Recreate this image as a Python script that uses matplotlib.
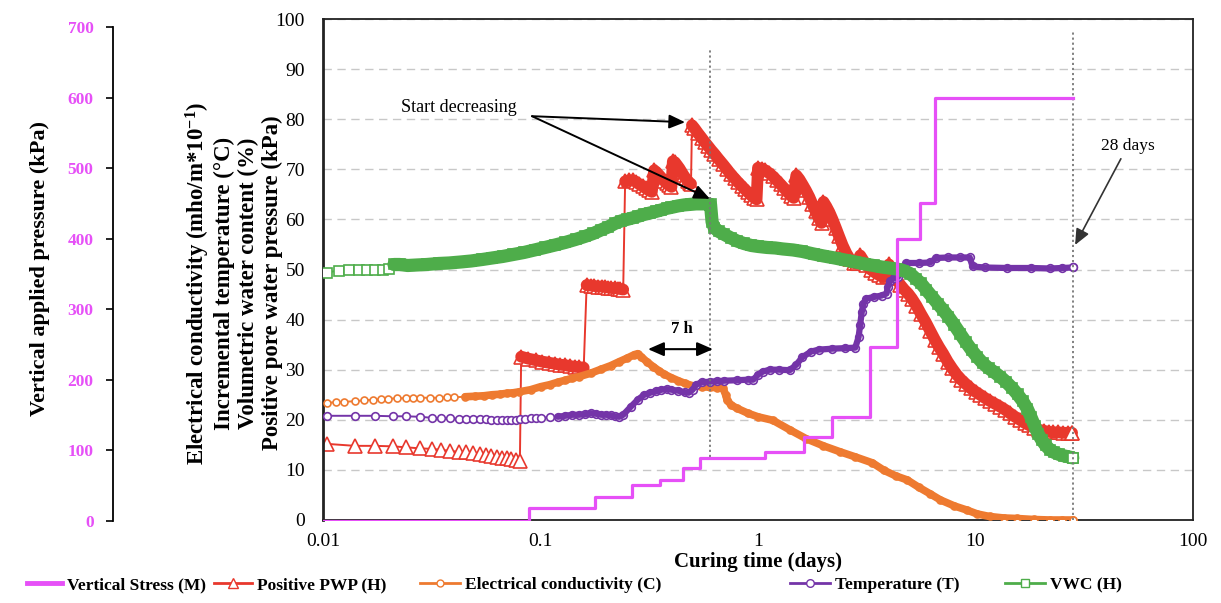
import numpy as np
import matplotlib
matplotlib.use("Agg")
import matplotlib.pyplot as plt
from matplotlib.lines import Line2D

plt.rcParams["font.family"] = ["Liberation Serif", "DejaVu Serif"]
plt.rcParams["mathtext.fontset"] = "custom"
plt.rcParams["mathtext.rm"] = "Liberation Serif"
plt.rcParams["mathtext.bf"] = "Liberation Serif:bold"
plt.rcParams["mathtext.default"] = "bf"

PINK = "#E650F7"
RED = "#E8382D"
ORANGE = "#EE7A30"
PURPLE = "#7434A8"
GREEN = "#4EAD4A"

# vertical applied stress (kPa), step loading
stress_t = [0.01, 0.0885, 0.178, 0.263, 0.354, 0.452, 0.541, 1.077, 1.627, 2.19, 3.27, 4.36, 5.56, 6.51, 28.0]
stress_v = [0, 18, 34, 51, 58, 75, 89, 98, 119, 147, 247, 400, 451, 600, 600]

# positive pore water pressure (kPa)
red_t = [0.0104, 0.0140, 0.0173, 0.0210, 0.0242, 0.0279, 0.0316, 0.0350, 0.0385, 0.0420, 0.0455,
         0.0490, 0.0525, 0.0560, 0.0595, 0.0630, 0.0665, 0.0700, 0.0735, 0.0770, 0.0804,
         0.0815, 0.088, 0.095, 0.102, 0.109, 0.116, 0.123, 0.130, 0.137, 0.144, 0.151, 0.158,
         0.163, 0.170, 0.177, 0.184, 0.191, 0.198, 0.205, 0.212, 0.219, 0.226, 0.233, 0.240,
         0.245, 0.255, 0.265, 0.275, 0.285, 0.295, 0.305, 0.315, 0.325, 0.333, 0.340, 0.350, 0.360,
         0.370, 0.380, 0.390, 0.400, 0.406, 0.415, 0.425, 0.435, 0.445, 0.455, 0.465, 0.475, 0.485, 0.492,
         0.497, 0.51, 0.53, 0.55, 0.57, 0.59, 0.61, 0.63, 0.66, 0.69, 0.72, 0.75, 0.78, 0.81, 0.84,
         0.87, 0.90, 0.93, 0.96, 0.985,
         1.00, 1.04, 1.08, 1.12, 1.17, 1.22, 1.27, 1.32, 1.37, 1.42, 1.46,
         1.50, 1.55, 1.60, 1.66, 1.72, 1.78, 1.84, 1.90, 1.96,
         2.00, 2.06, 2.13, 2.20, 2.28, 2.36, 2.45, 2.55, 2.65, 2.75, 2.85, 2.95, 3.05, 3.15, 3.30,
         3.45, 3.60, 3.75, 3.90, 4.00, 4.15, 4.30, 4.50, 4.70, 4.90, 5.10, 5.35, 5.60, 5.90, 6.20,
         6.50, 6.80, 7.10, 7.45, 7.80, 8.20, 8.60, 9.00, 9.50, 10.0, 10.5, 11.1, 11.7, 12.3, 13.0,
         13.7, 14.4, 15.2, 16.0, 16.8, 17.7, 18.6, 19.6, 20.6, 21.7, 22.8, 24.0, 25.2, 26.5, 27.8]
red_v = [15.2, 14.8, 14.8, 14.7, 14.5, 14.3, 14.2, 14.0, 13.8, 13.6, 13.5,
         13.3, 13.1, 12.9, 12.8, 12.6, 12.4, 12.3, 12.1, 12.0, 11.8,
         32.6, 32.2, 31.9, 31.6, 31.4, 31.2, 31.0, 30.9, 30.7, 30.6, 30.5, 30.4,
         46.9, 46.8, 46.7, 46.6, 46.6, 46.5, 46.4, 46.3, 46.3, 46.2, 46.1, 46.0,
         67.6, 67.8, 67.8, 67.5, 67.0, 66.6, 66.2, 65.8, 65.5, 69.8, 69.5, 68.9, 68.3,
         67.7, 67.2, 66.8, 66.5, 71.6, 71.4, 70.8, 70.2, 69.5, 68.8, 68.2, 67.7, 67.3, 67.1,
         78.8, 78.2, 77.2, 76.3, 75.4, 74.6, 73.8, 73.1, 72.0, 71.0, 70.0, 69.0, 68.2, 67.4, 66.7,
         66.0, 65.4, 64.8, 64.3, 64.0,
         70.3, 70.1, 69.8, 69.3, 68.6, 67.8, 67.0, 66.2, 65.4, 64.7, 64.3,
         68.8, 68.0, 67.0, 65.8, 64.5, 63.0, 61.6, 60.3, 59.3,
         63.5, 62.6, 61.4, 60.0, 58.3, 56.6, 54.8, 53.2, 52.0, 51.3, 51.2, 52.8, 51.8, 50.8, 50.0,
         49.4, 48.9, 48.5, 48.8, 51.0, 49.5, 48.3, 47.0, 46.0, 45.2, 44.2, 42.8, 41.2, 39.5, 37.7,
         36.0, 34.5, 33.2, 31.6, 30.3, 29.0, 28.0, 27.2, 26.3, 25.6, 25.0, 24.3, 23.7, 23.2, 22.6,
         22.0, 21.3, 20.6, 20.0, 19.4, 18.9, 18.4, 18.0, 17.8, 17.6, 17.5, 17.5, 17.4, 17.4, 17.4]

# electrical conductivity (mho/m*10^-1)
orange_t = [0.0104, 0.0115, 0.0125, 0.0140, 0.0155, 0.0170, 0.0185, 0.0200, 0.0220, 0.0240,
            0.0260, 0.0280, 0.0310, 0.0340, 0.0370, 0.0400, 0.0450, 0.0500, 0.0550, 0.0600,
            0.0650, 0.0700, 0.0750, 0.0800, 0.0900, 0.100, 0.110, 0.120, 0.130, 0.140,
            0.150, 0.170, 0.190, 0.210, 0.230, 0.250, 0.270, 0.280, 0.290, 0.310,
            0.330, 0.350, 0.370, 0.400, 0.430, 0.460, 0.500, 0.550, 0.600, 0.650,
            0.690, 0.710, 0.720, 0.750, 0.800, 0.900, 1.00, 1.17, 1.40, 1.67,
            2.00, 2.39, 2.80, 3.36, 3.80, 4.30, 4.85, 5.50, 6.20, 6.90,
            8.00, 9.10, 10.2, 11.6, 13.5, 15.5, 18.5, 22.0, 25.0, 28.0]
orange_v = [23.4, 23.5, 23.6, 23.7, 23.9, 24.0, 24.1, 24.2, 24.3, 24.3,
            24.4, 24.4, 24.4, 24.4, 24.5, 24.5, 24.6, 24.7, 24.8, 25.0,
            25.1, 25.3, 25.4, 25.6, 26.0, 26.6, 27.0, 27.5, 27.9, 28.3,
            28.6, 29.3, 30.1, 30.8, 31.6, 32.3, 33.0, 33.2, 32.6, 31.5,
            30.6, 29.8, 29.1, 28.4, 27.8, 27.3, 26.8, 26.6, 26.5, 26.4,
            26.3, 25.0, 24.0, 23.0, 22.3, 21.3, 20.6, 19.9, 18.0, 16.2,
            14.8, 13.6, 12.6, 11.4, 9.9, 8.8, 8.0, 6.5, 5.2, 4.0,
            2.8, 2.0, 1.2, 0.7, 0.4, 0.3, 0.1, 0.0, 0.0, 0.0]

# incremental temperature (°C)
purple_t = [0.0104, 0.0140, 0.0173, 0.0210, 0.0242, 0.0279, 0.0316, 0.0350, 0.0385, 0.0420,
            0.0455, 0.0490, 0.0525, 0.0560, 0.0595, 0.0630, 0.0665, 0.0700, 0.0735, 0.0770,
            0.0805, 0.085, 0.090, 0.095, 0.100, 0.110, 0.120, 0.130, 0.140, 0.150,
            0.160, 0.170, 0.180, 0.190, 0.200, 0.210, 0.220, 0.230, 0.240, 0.260,
            0.280, 0.300, 0.320, 0.340, 0.360, 0.380, 0.400, 0.430, 0.460, 0.480,
            0.500, 0.520, 0.550, 0.600, 0.650, 0.700, 0.800, 0.900, 0.950, 1.00,
            1.05, 1.13, 1.25, 1.40, 1.50, 1.60, 1.75, 1.90, 2.20, 2.50,
            2.80, 2.90, 2.95, 3.00, 3.05, 3.15, 3.40, 3.70, 3.90, 3.95,
            4.05, 4.20, 4.40, 4.60, 4.80, 5.50, 6.20, 6.60, 7.50, 8.50,
            9.40, 9.70, 11.0, 14.0, 18.0, 22.0, 25.0, 28.0]
purple_v = [20.8, 20.8, 20.8, 20.7, 20.7, 20.6, 20.4, 20.3, 20.3, 20.2,
            20.2, 20.1, 20.1, 20.1, 20.0, 20.0, 20.0, 20.0, 19.9, 20.0,
            20.1, 20.2, 20.3, 20.3, 20.4, 20.5, 20.6, 20.8, 21.0, 21.0,
            21.1, 21.3, 21.2, 21.0, 21.0, 20.9, 20.7, 20.6, 21.0, 22.6,
            24.0, 25.0, 25.4, 25.7, 26.0, 26.1, 26.0, 25.8, 25.5, 25.4,
            26.0, 27.0, 27.5, 27.6, 27.7, 27.8, 27.9, 28.0, 28.0, 29.0,
            29.6, 30.0, 30.0, 29.9, 31.0, 32.5, 33.6, 34.0, 34.2, 34.3,
            34.4, 36.5, 39.0, 41.5, 43.2, 44.2, 44.5, 44.8, 45.2, 46.5,
            47.7, 48.3, 48.5, 50.0, 51.3, 51.3, 51.4, 52.3, 52.4, 52.4,
            52.4, 50.6, 50.4, 50.3, 50.3, 50.2, 50.3, 50.4]

# volumetric water content (%)
green_t = [0.0104, 0.0118, 0.0132, 0.0146, 0.0160, 0.0174, 0.0188, 0.0202, 0.0212, 0.0225,
           0.0245, 0.027, 0.030, 0.034, 0.038, 0.043, 0.048, 0.054, 0.060, 0.067,
           0.075, 0.084, 0.094, 0.105, 0.117, 0.130, 0.145, 0.160, 0.175, 0.190,
           0.205, 0.220, 0.235, 0.250, 0.265, 0.28, 0.30, 0.32, 0.34, 0.36,
           0.38, 0.40, 0.43, 0.46, 0.49, 0.52, 0.55, 0.58, 0.605, 0.615,
           0.63, 0.66, 0.70, 0.75, 0.80, 0.86, 0.93, 1.0, 1.1, 1.2,
           1.3, 1.45, 1.6, 1.8, 2.0, 2.25, 2.5, 2.8, 3.1, 3.4,
           3.7, 4.0, 4.35, 4.65, 5.0, 5.3, 5.6, 5.95, 6.3, 6.7,
           7.1, 7.5, 8.0, 8.5, 9.0, 9.6, 10.2, 10.8, 11.5, 12.2,
           13.0, 13.8, 14.7, 15.6, 16.5, 17.3, 18.0, 18.7, 19.4, 20.2,
           21.0, 22.0, 23.0, 24.2, 25.5, 26.8, 28.0]
green_v = [49.4, 49.8, 50.0, 50.0, 50.0, 49.9, 50.0, 50.1, 51.0, 51.0,
           50.8, 50.9, 51.0, 51.2, 51.3, 51.5, 51.7, 52.0, 52.3, 52.6,
           53.0, 53.4, 53.9, 54.4, 54.9, 55.4, 56.0, 56.6, 57.2, 57.9,
           58.5, 59.2, 59.7, 60.0, 60.3, 60.6, 61.0, 61.3, 61.6, 61.9,
           62.2, 62.4, 62.7, 62.9, 63.0, 63.1, 63.1, 63.1, 63.0, 59.5,
           58.3, 57.6, 57.0, 56.3, 55.7, 55.2, 54.8, 54.6, 54.4, 54.3,
           54.1, 53.9, 53.6, 53.1, 52.7, 52.3, 51.9, 51.5, 51.1, 50.8,
           50.5, 50.3, 50.1, 49.8, 49.2, 48.2, 47.3, 45.9, 44.6, 43.2,
           41.9, 40.6, 38.9, 37.2, 35.6, 33.9, 32.5, 31.3, 30.3, 29.5,
           28.6, 27.6, 26.4, 25.1, 23.7, 22.2, 20.5, 18.8, 17.2, 15.9,
           14.9, 14.0, 13.5, 13.1, 12.8, 12.6, 12.4]

legend_labels = ["Vertical Stress (M)", "Positive PWP (H)", "Electrical conductivity (C)",
                 "Temperature (T)", "VWC (H)"]

fig = plt.figure(figsize=(12.21, 6.03), dpi=100)
L, W = 323 / 1221, 870 / 1221
ax = fig.add_axes([L, 83 / 603, W, 501 / 603])
ax.set_xscale("log")
ax.set_xlim(0.01, 100)
ax.set_ylim(0, 100)


def series(t, v, color, marker, ms, band_from, band_lw, jump=None, z=2):
    # thin line with open markers, then a solid band where the samples crowd together
    ax.plot(t, v, color=color, lw=1.4, marker=marker, ms=ms, mfc="white", mec=color,
            mew=1.2, zorder=z)
    tt = np.asarray(t[band_from:])
    vv = np.asarray(v[band_from:], dtype=float)
    cuts = []
    if jump is not None:
        cuts = np.where(np.abs(np.diff(vv)) > jump)[0] + 1
    for a, b in zip(np.split(tt, cuts), np.split(vv, cuts)):
        ax.plot(a, b, color=color, lw=band_lw, solid_capstyle="round",
                solid_joinstyle="round", zorder=z + 0.1)
    ax.plot(t[-1], v[-1], color=color, marker=marker, ms=ms, mfc="white", mec=color,
            mew=1.2, ls="none", zorder=z + 0.2)


series(red_t, red_v, RED, "^", 9.5, 21, 8.5, jump=8, z=2)
series(orange_t, orange_v, ORANGE, "o", 5, 16, 5.5, z=3)
series(purple_t, purple_v, PURPLE, "o", 5.5, 26, 4.5, z=4)
series(green_t, green_v, GREEN, "s", 6.5, 8, 9.5, z=5)

# reference lines at 0.6 day and 28 days
ax.plot([0.6, 0.6], [12.5, 94], ls=(0, (1.2, 1.6)), color="#777777", lw=1.3, zorder=6)
ax.plot([28, 28], [0, 97.5], ls=(0, (1.2, 1.6)), color="#777777", lw=1.3, zorder=6)

ax.set_yticks(np.arange(0, 101, 10))
ax.set_xticks([0.01, 0.1, 1, 10, 100], ["0.01", "0.1", "1", "10", "100"])
ax.xaxis.set_minor_locator(matplotlib.ticker.NullLocator())
ax.tick_params(axis="y", length=0, pad=13, labelsize=14)
ax.tick_params(axis="x", length=0, pad=9, labelsize=14)
ax.yaxis.grid(True, ls=(0, (6, 4)), color="#C8C8C8", lw=1)
ax.set_axisbelow(True)
for s in ax.spines.values():
    s.set_linewidth(1.3)
    s.set_color("#222222")
ax.spines["left"].set_linewidth(2)
ax.set_xlabel("Curing time (days)", fontsize=15, fontweight="bold", labelpad=2)

# annotations
arrow = dict(arrowstyle="-|>,head_length=0.8,head_width=0.35", color="black", lw=1.4,
             shrinkA=0, shrinkB=0, mutation_scale=12)
ax.text(0.0422, 82.4, "Start decreasing", fontsize=13, ha="center", va="center")
ax.annotate("", xy=(0.462, 79.4), xytext=(0.0914, 80.6), arrowprops=arrow, zorder=8)
ax.annotate("", xy=(0.601, 64.1), xytext=(0.0914, 80.6), arrowprops=arrow, zorder=8)
ax.text(0.447, 38.1, "7 h", fontsize=12, fontweight="bold", ha="center", va="center")
ax.annotate("", xy=(0.312, 34.1), xytext=(0.621, 34.1),
            arrowprops=dict(arrowstyle="<|-|>,head_length=0.8,head_width=0.35", color="black",
                            lw=1.5, shrinkA=0, shrinkB=0, mutation_scale=12), zorder=8)
ax.text(50.2, 74.6, "28 days", fontsize=12.5, ha="center", va="center")
ax.annotate("", xy=(28.7, 54.9), xytext=(46.6, 72.1),
            arrowprops=dict(arrowstyle="-|>,head_length=0.8,head_width=0.35", color="#333333",
                            lw=1.2, shrinkA=0, shrinkB=0, mutation_scale=12), zorder=8)

# vertical stress on its own left axis
ax2 = fig.add_axes([L, 82 / 603, W, 494 / 603])
ax2.set_xscale("log")
ax2.set_xlim(0.01, 100)
ax2.set_ylim(0, 700)
ax2.patch.set_visible(False)
ax2.step(stress_t, stress_v, where="post", color=PINK, lw=2.3, zorder=9)
for k in ["top", "right", "bottom"]:
    ax2.spines[k].set_visible(False)
ax2.spines["left"].set_position(("axes", (113 - 323) / 870))
ax2.spines["left"].set_linewidth(1.3)
ax2.xaxis.set_visible(False)
ax2.set_yticks(np.arange(0, 701, 100), [str(v) for v in range(0, 701, 100)], fontweight="bold")
ax2.tick_params(axis="y", direction="out", length=5, width=1.2, pad=9, labelsize=12.5,
                labelcolor=PINK)

fig.text(40 / 1221, 1 - 268 / 603, "Vertical applied pressure (kPa)", rotation=90,
         ha="center", va="center", fontsize=16, fontweight="bold")
fig.text(233 / 1221, 1 - 283 / 603,
         "Electrical conductivity (mho/m*10$^{-1}$)\nIncremental temperature (°C)\n"
         "Volumetric water content (%)\nPositive pore water pressure (kPa)",
         rotation=90, ha="center", va="center", fontsize=16.5, fontweight="bold",
         multialignment="center", linespacing=1.15)

handles = [Line2D([], [], color=PINK, lw=3.5),
           Line2D([], [], color=RED, lw=2, marker="^", ms=7, mfc="white", mec=RED),
           Line2D([], [], color=ORANGE, lw=2, marker="o", ms=5, mfc="white", mec=ORANGE),
           Line2D([], [], color=PURPLE, lw=2, marker="o", ms=5.5, mfc="white", mec=PURPLE),
           Line2D([], [], color=GREEN, lw=2, marker="s", ms=5.5, mfc="white", mec=GREEN)]
# legend entries spread along the bottom edge, one per series
entry_x = [27, 214, 420, 790, 1005]
entry_len = [2.0, 2.2, 2.3, 2.3, 2.3]
for h, lab, x, hl in zip(handles, legend_labels, entry_x, entry_len):
    fig.legend([h], [lab], loc="center left", bbox_to_anchor=(x / 1221, 1 - 585 / 603),
               frameon=False, prop=dict(weight="bold", size=12.5), handlelength=hl,
               handletextpad=0.3, borderpad=0, borderaxespad=0)

fig.savefig("out.png", dpi=100)
